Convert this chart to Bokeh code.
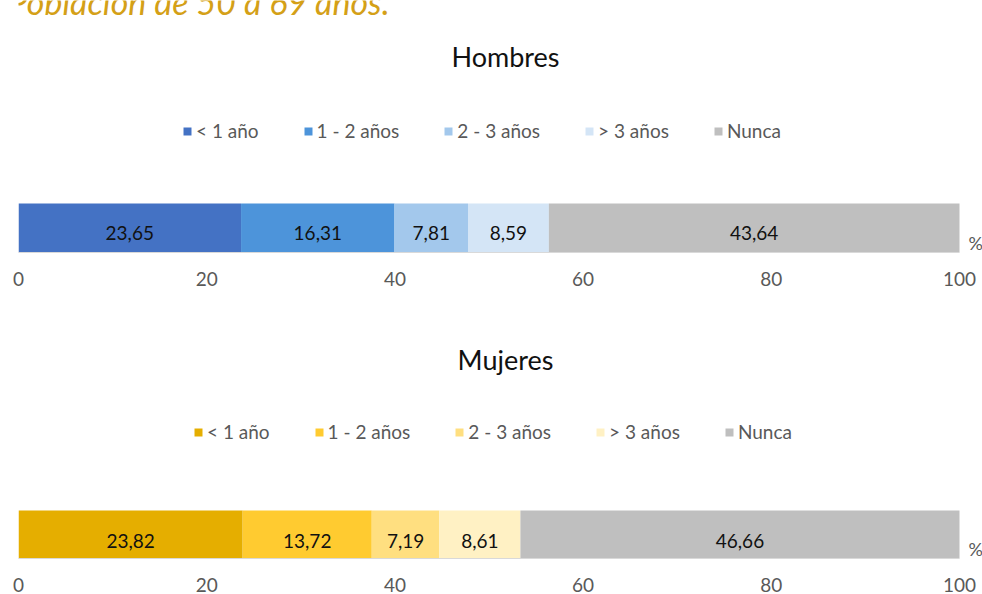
from bokeh.plotting import figure
from bokeh.models import (Range1d, Legend, LegendItem, Label, ColumnDataSource,
                          FixedTicker)
from bokeh.layouts import column
from bokeh.embed import file_html
from bokeh.resources import INLINE
from bokeh.core.properties import value

# ---------------- data ----------------
page_title = "Población de 50 a 69 años."
panel_titles = ["Hombres", "Mujeres"]
categories = ["< 1 año", "1 - 2 años", "2 - 3 años", "> 3 años", "Nunca"]
hombres = [23.65, 16.31, 7.81, 8.59, 43.64]
mujeres = [23.82, 13.72, 7.19, 8.61, 46.66]
hombres_colors = ["#4472C4", "#4D94DA", "#A3C8EC", "#D4E5F6", "#BFBFBF"]
mujeres_colors = ["#E5AE00", "#FFCB30", "#FFDF80", "#FFF1C4", "#BFBFBF"]
x_ticks = [0, 20, 40, 60, 80, 100]
unit_label = "%"

FONT = "Lato"
FIG_W = 982
LEFT = 18
PX_PER_UNIT = 9.41           # 100 units -> 941 px
FRAME_W = FIG_W - LEFT       # frame runs to the right edge
X_END = FRAME_W / PX_PER_UNIT


def make_panel(title, values, colors, frame_h, bottom_border, title_y,
               legend_x, legend_y, label_y, pct_y, bar_h, standoff,
               page_header=None):
    p = figure(frame_width=FRAME_W, frame_height=frame_h,
               x_range=Range1d(0, X_END), y_range=Range1d(0, frame_h),
               output_backend="svg", toolbar_location=None,
               y_axis_location=None,
               min_border_left=LEFT, min_border_right=0,
               min_border_top=0, min_border_bottom=bottom_border)
    p.outline_line_color = None
    p.grid.visible = False
    p.background_fill_color = "white"
    p.border_fill_color = "white"

    lefts, rights = [], []
    acc = 0.0
    for v in values:
        lefts.append(acc)
        acc += v
        rights.append(acc)

    items = []
    for cat, l, r, c in zip(categories, lefts, rights, colors):
        src = ColumnDataSource(dict(y=[bar_h / 2], left=[l], right=[r]))
        rend = p.hbar(y="y", left="left", right="right", height=bar_h,
                      source=src, fill_color=c, line_color=None)
        items.append(LegendItem(label=cat, renderers=[rend]))

    lab_src = ColumnDataSource(dict(
        x=[(l + r) / 2 for l, r in zip(lefts, rights)],
        y=[label_y] * len(values),
        t=[f"{v:.2f}".replace(".", ",") for v in values]))
    p.text(x="x", y="y", text="t", source=lab_src, text_align="center",
           text_baseline="middle", text_font=value(FONT),
           text_font_size="19px", text_color="#111111")

    # unit sign just right of the 100 end of the bar
    p.text(x=[x_ticks[-1]], y=[pct_y], text=[unit_label], x_offset=9,
           text_align="left", text_baseline="middle", text_font=value(FONT),
           text_font_size="18px", text_color="#595959")

    legend = Legend(items=items, orientation="horizontal",
                    location=(legend_x, legend_y),
                    glyph_width=10, glyph_height=10, label_standoff=4,
                    spacing=44, padding=0, margin=0,
                    border_line_color=None, background_fill_alpha=0,
                    label_text_font=FONT, label_text_font_size="19px",
                    label_text_color="#595959")
    p.add_layout(legend)

    p.add_layout(Label(x=487, y=title_y, x_units="screen", y_units="screen",
                       text=title, text_align="center", text_baseline="middle",
                       text_font=FONT, text_font_size="27px",
                       text_color="#111111"))

    if page_header:
        p.add_layout(Label(x=-10, y=frame_h - 1, x_units="screen",
                           y_units="screen", text=page_header,
                           text_align="left", text_baseline="middle",
                           text_font=FONT, text_font_style="italic",
                           text_font_size="34px", text_color="#D4A017"))

    ax = p.xaxis[0]
    ax.ticker = FixedTicker(ticks=x_ticks)
    ax.bounds = (x_ticks[0], x_ticks[-1])
    ax.axis_line_color = "#D9D9D9"
    ax.major_tick_line_color = None
    ax.minor_tick_line_color = None
    ax.major_label_standoff = standoff
    ax.major_label_text_font = FONT
    ax.major_label_text_font_size = "19px"
    ax.major_label_text_color = "#595959"
    return p


p1 = make_panel(panel_titles[0], hombres, hombres_colors, frame_h=252,
                bottom_border=53, title_y=196, legend_x=164, legend_y=110,
                label_y=20, pct_y=10, bar_h=49, standoff=13,
                page_header=page_title)
p2 = make_panel(panel_titles[1], mujeres, mujeres_colors, frame_h=253,
                bottom_border=36, title_y=199, legend_x=175, legend_y=115,
                label_y=18, pct_y=10, bar_h=48, standoff=13)

layout = column(p1, p2, spacing=0)
open("out.html", "w").write(file_html(layout, INLINE))
